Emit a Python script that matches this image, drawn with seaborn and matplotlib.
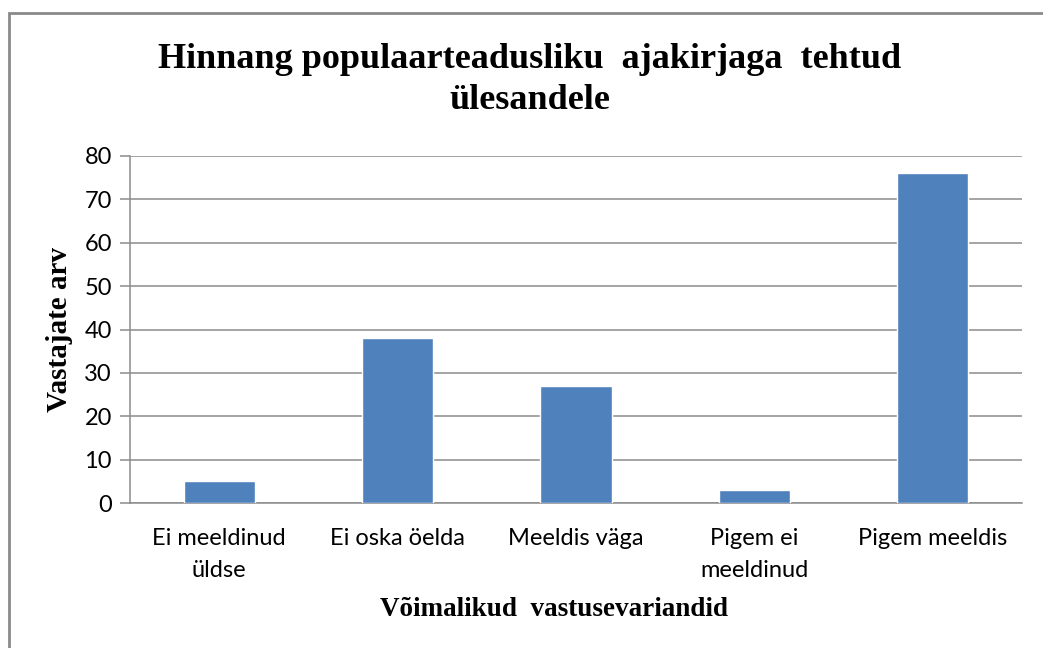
import matplotlib
matplotlib.use("Agg")
import matplotlib.pyplot as plt
import seaborn as sns
import pandas as pd
from matplotlib.patches import Rectangle

# ---------------- data ----------------
categories = [
    "Ei meeldinud\nüldse",
    "Ei oska öelda",
    "Meeldis väga",
    "Pigem ei\nmeeldinud",
    "Pigem meeldis",
]
counts = [5, 38, 27, 3, 76]
y_ticks = [0, 10, 20, 30, 40, 50, 60, 70, 80]

df = pd.DataFrame({"vastus": categories, "arv": counts})

sns.set_theme(style="white")
plt.rcParams["font.family"] = ["Lato", "DejaVu Sans"]
plt.rcParams["text.color"] = "black"

fig = plt.figure(figsize=(10.43, 6.48), dpi=100)
ax = fig.add_axes([130 / 1043, 1 - 503 / 648, 892 / 1043, 347 / 648])

sns.barplot(data=df, x="vastus", y="arv", color="#4F81BD", width=0.40,
            saturation=1, ax=ax, zorder=3)

grid_col = "#8C8C8C"
ax.set_ylim(0, 80)
ax.set_xlim(-0.5, 4.5)
ax.set_yticks(y_ticks)
ax.yaxis.grid(True, color=grid_col, linewidth=1.1, zorder=0)
ax.xaxis.grid(False)
for side in ["top", "right"]:
    ax.spines[side].set_visible(False)
ax.spines["left"].set_color(grid_col)
ax.spines["bottom"].set_color(grid_col)
ax.spines["left"].set_linewidth(1.1)
ax.spines["bottom"].set_linewidth(1.1)

ax.tick_params(axis="y", which="both", left=True, length=7, width=1.1,
               color=grid_col, labelsize=17, pad=6, labelcolor="black")
ax.tick_params(axis="x", bottom=False, labelsize=17, pad=12,
               labelcolor="black")
for lab in ax.get_xticklabels():
    lab.set_linespacing(1.65)

serif = ["Liberation Serif", "DejaVu Serif"]
ax.set_xlabel("Võimalikud  vastusevariandid", fontsize=19.5, fontweight="bold",
              family=serif, color="black")
ax.xaxis.set_label_coords((554 - 130) / 892, -(597 - 503) / 347)
ax.set_ylabel("Vastajate arv", fontsize=21, fontweight="bold",
              family=serif, color="black")
ax.yaxis.set_label_coords(-(130 - 73) / 892, (503 - 329) / 347)

fig.text(530 / 1043, 1 - 80 / 648,
         "Hinnang populaarteadusliku  ajakirjaga  tehtud\nülesandele",
         ha="center", va="center", fontsize=26, fontweight="bold",
         family=serif, linespacing=1.3, color="black")

# outer chart frame (cut at right and bottom as in the source)
fig.patches.append(Rectangle((9 / 1043, -0.1), 1.2, 1 - 13 / 648 + 0.1,
                             transform=fig.transFigure, fill=False,
                             edgecolor="#8A8A8A", linewidth=2))

fig.savefig("out.png", dpi=100)
